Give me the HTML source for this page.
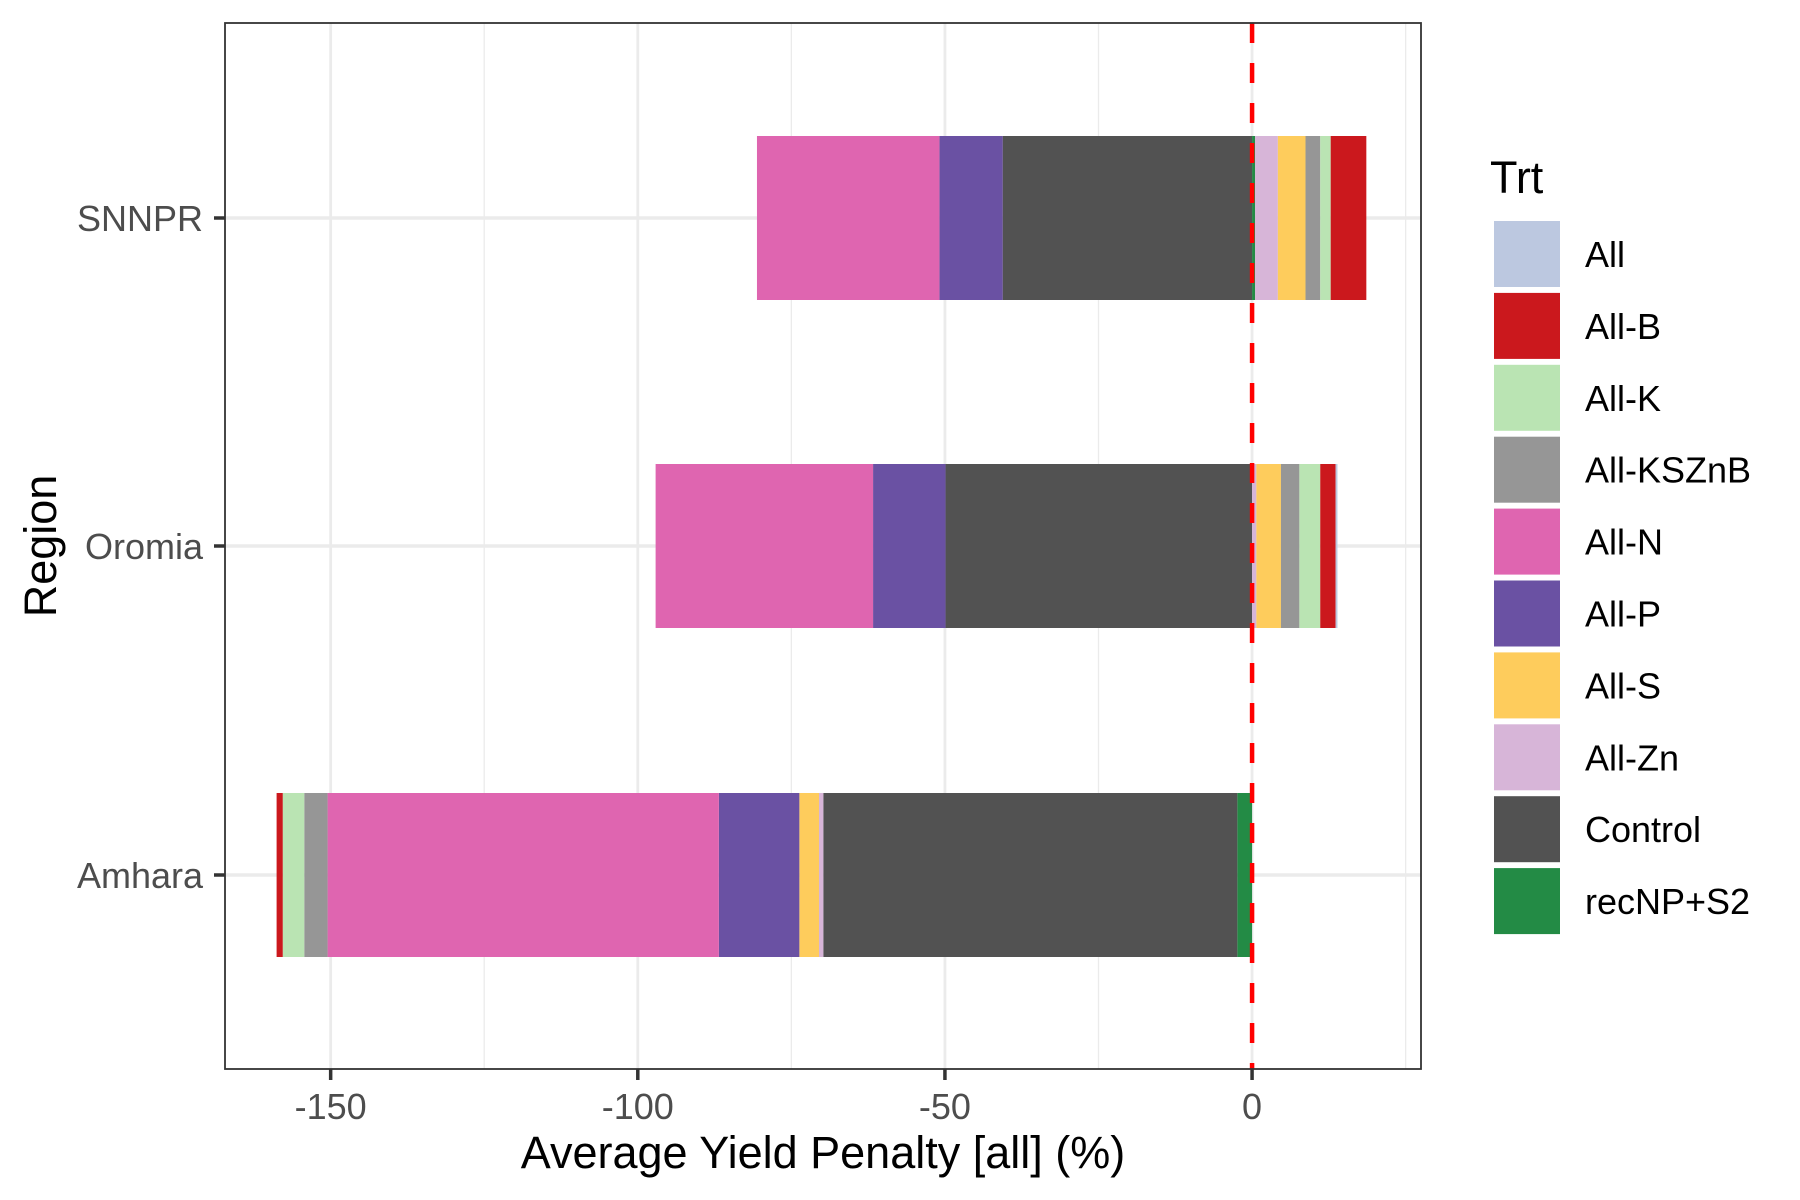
<!DOCTYPE html>
<html><head><meta charset="utf-8"><style>
html,body{margin:0;padding:0;background:#fff;}
svg{display:block;font-family:"Liberation Sans",Arial,sans-serif;}
</style></head><body>
<svg id="chart" width="1800" height="1200" viewBox="0 0 1800 1200">
<rect x="0" y="0" width="1800" height="1200" fill="#fff"/>
<g id="grid"></g><g id="bars"></g><g id="axes"></g><g id="legend"></g>
</svg>
<script>
const regions = ["SNNPR","Oromia","Amhara"];
const treatments = ["All","All-B","All-K","All-KSZnB","All-N","All-P","All-S","All-Zn","Control","recNP+S2"];
const colors = ["#bcc8e0","#cb181d","#bae4b3","#969696","#df65b0","#6a51a3","#fecc5c","#d7b5d8","#525252","#238b45"];
// values per region, in treatments order
const valSNNPR  = [0, 5.8, 1.7, 2.4, -29.7, -10.3, 4.5, 3.7, -40.6, 0.5];
const valOromia = [0.3, 2.5, 3.4, 3.0, -35.4, -11.8, 4.0, 0.7, -49.9, 0];
const valAmhara = [0, -1.0, -3.5, -3.8, -63.7, -13.1, -3.2, -0.7, -67.4, -2.4];
const seriesVals = [valSNNPR, valOromia, valAmhara];
const xTicks = [-150, -100, -50, 0];
const xMinor = [-125, -75, -25, 25];

const NS = "http://www.w3.org/2000/svg";
const P = {l:225, r:1421, t:23, b:1069};
const xmin = -167.2, xmax = 27.5;
function xs(v){ return P.l + (v - xmin) / (xmax - xmin) * (P.r - P.l); }
const yCenters = [218, 546, 875];
function ys(i){ return yCenters[i]; }
const barH = 164;
function mk(tag, attrs, parent){ const e=document.createElementNS(NS,tag); for(const k in attrs) e.setAttribute(k,attrs[k]); parent.appendChild(e); return e; }

const grid = document.getElementById("grid"), bars = document.getElementById("bars"), axes = document.getElementById("axes"), legend = document.getElementById("legend");
xMinor.forEach(v=>{ const l=mk("line",{x1:xs(v),x2:xs(v),y1:P.t,y2:P.b,stroke:"#ebebeb","stroke-width":1.3},grid);

 });
xTicks.forEach(v=>{ const l=mk("line",{x1:xs(v),x2:xs(v),y1:P.t,y2:P.b,stroke:"#ebebeb","stroke-width":2.8},grid);

 });
regions.forEach((r,i)=>{ const l=mk("line",{x1:P.l,x2:P.r,y1:ys(i),y2:ys(i),stroke:"#ebebeb","stroke-width":3.5},grid);

 });

regions.forEach((r,i)=>{
  const vals = seriesVals[i];
  let pos=0, neg=0;
  for(let k=treatments.length-1;k>=0;k--){
    const v=vals[k]; if(!v) continue;
    let a,b;
    if(v>0){ a=pos; b=pos+v; pos=b; } else { a=neg+v; b=neg; neg=a; }
    const rc=mk("rect",{x:xs(a),y:ys(i)-barH/2,width:xs(b)-xs(a),height:barH,fill:colors[k]},bars);
    
    
  }
});

const zl=mk("line",{x1:xs(0),x2:xs(0),y1:P.t,y2:P.b,stroke:"#ff0000","stroke-width":4.5,"stroke-dasharray":"20 20"},bars);



const pb=mk("rect",{x:P.l,y:P.t,width:P.r-P.l,height:P.b-P.t,fill:"none",stroke:"#333","stroke-width":1.8},axes);



xTicks.forEach(v=>{
  const t=mk("line",{x1:xs(v),x2:xs(v),y1:P.b,y2:P.b+11,stroke:"#333","stroke-width":3.5},axes);
  
  
  const tx=mk("text",{x:xs(v),y:P.b+50,"text-anchor":"middle","font-size":36,fill:"#4d4d4d"},axes);
  tx.textContent=String(v);
  
  
});
regions.forEach((r,i)=>{
  const t=mk("line",{x1:P.l-11,x2:P.l,y1:ys(i),y2:ys(i),stroke:"#333","stroke-width":3.5},axes);
  
  
  const tx=mk("text",{x:P.l-22,y:ys(i)+13,"text-anchor":"end","font-size":36,fill:"#4d4d4d"},axes);
  tx.textContent=r;
  
  
});
const xt=mk("text",{x:(P.l+P.r)/2,y:1168,"text-anchor":"middle","font-size":45,fill:"#000"},axes);
xt.textContent="Average Yield Penalty [all] (%)";


const yt=mk("text",{x:0,y:0,"text-anchor":"middle","font-size":45,fill:"#000",transform:"translate(56,546) rotate(-90)"},axes);
yt.textContent="Region";



const lt=mk("text",{x:1490,y:193,"font-size":45,fill:"#000"},legend);
lt.textContent="Trt";


treatments.forEach((t,k)=>{
  const y0=221+k*71.9;
  const g=mk("g",{},legend);
  
  
  mk("rect",{x:1494,y:y0,width:66,height:66,fill:colors[k]},g);
  const tx=mk("text",{x:1585,y:y0+46,"font-size":36,fill:"#000"},g);
  tx.textContent=t;
});
</script>
</body></html>
